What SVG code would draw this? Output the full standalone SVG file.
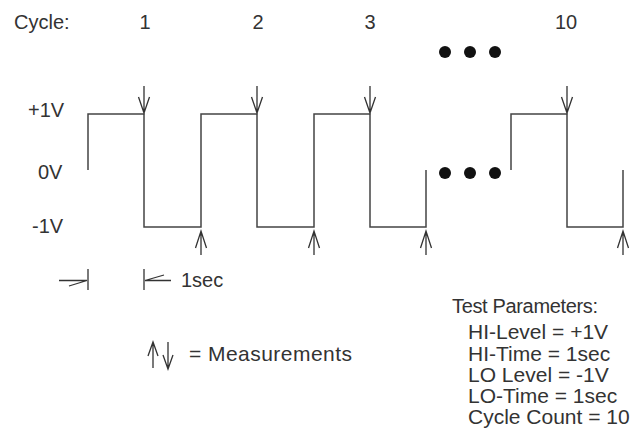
<svg xmlns="http://www.w3.org/2000/svg" width="634" height="436" viewBox="0 0 634 436">
<style>
text{font-family:"Liberation Sans",Arial,sans-serif;font-size:20px;fill:#333}
.p{font-size:21px}
.w{fill:none;stroke:#444;stroke-width:1.5}
.a{fill:none;stroke:#333;stroke-width:1.3}
.d{fill:#111}
</style>
<rect width="634" height="436" fill="#fff"/>
<g id="labels">
<text x="14" y="29">Cycle:</text>
<text x="145" y="29" text-anchor="middle">1</text>
<text x="258" y="29" text-anchor="middle">2</text>
<text x="370" y="29" text-anchor="middle">3</text>
<text x="566" y="29" text-anchor="middle">10</text>
<text x="28" y="117">+1V</text>
<text x="38" y="179">0V</text>
<text x="32" y="233">-1V</text>
<text x="181" y="287">1sec</text>
<text class="p" x="189" y="361" textLength="163">= Measurements</text>
</g>
<g id="params">
<text x="452" y="313" textLength="146">Test Parameters:</text>
<text class="p" x="468" y="339">HI-Level = +1V</text>
<text class="p" x="468" y="361">HI-Time = 1sec</text>
<text class="p" x="468" y="382">LO Level = -1V</text>
<text class="p" x="468" y="403">LO-Time = 1sec</text>
<text class="p" x="468" y="424">Cycle Count = 10</text>
</g>
<g id="dots">
<circle class="d" cx="445" cy="52" r="6"/>
<circle class="d" cx="470" cy="52" r="6"/>
<circle class="d" cx="495" cy="52" r="6"/>
<circle class="d" cx="445" cy="173" r="6"/>
<circle class="d" cx="470" cy="173" r="6"/>
<circle class="d" cx="495" cy="173" r="6"/>
</g>
<g id="waveform">
<path class="w" d="M88 170V114H144V227H201V114H257V227H314V114H370V227H426V170"/>
<path class="w" d="M511 170V114H567V227H623V170"/>
</g>
<g id="connectors">
<path class="a" d="M144 86V113M138.5 97L144 113L149.5 97"/>
<path class="a" d="M257 86V113M251.5 97L257 113L262.5 97"/>
<path class="a" d="M370 86V113M364.5 97L370 113L375.5 97"/>
<path class="a" d="M567 86V113M561.5 97L567 113L572.5 97"/>
<path class="a" d="M201 255V231M195.5 248L201 231L206.5 248"/>
<path class="a" d="M314 255V231M308.5 248L314 231L319.5 248"/>
<path class="a" d="M426 255V231M420.5 248L426 231L431.5 248"/>
<path class="a" d="M623 255V231M617.5 248L623 231L628.5 248"/>
<path class="a" d="M59 280.5H87M69 286L87 280.5M88 269V290"/>
<path class="a" d="M144 269V290M145 280.5H171M145 280.5L164 275"/>
<path class="a" d="M153 368V342M148 356L153 342L158 356"/>
<path class="a" d="M168 342V369M163 355L168 369L173 355"/>
</g>
</svg>
